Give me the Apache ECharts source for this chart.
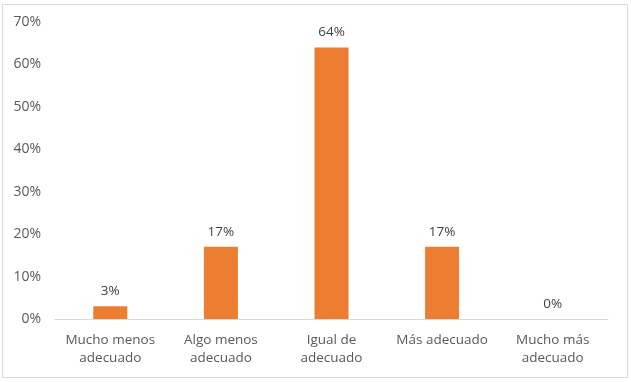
<!DOCTYPE html>
<html><head><meta charset="utf-8">
<script src="https://cdn.jsdelivr.net/npm/echarts@6/dist/echarts.min.js"></script>
<style>html,body{margin:0;padding:0;background:#fff;}#c{width:631px;height:382px;}</style>
</head><body><div id="c"></div>
<script>
const categories = ["Mucho menos\nadecuado", "Algo menos\nadecuado", "Igual de\nadecuado", "Más adecuado", "Mucho más\nadecuado"];
const values = [3, 17, 64, 17, 0];
const yTicks = [0, 10, 20, 30, 40, 50, 60, 70];

const chart = echarts.init(document.getElementById('c'), null, {renderer: 'canvas'});
const font = "'Open Sans', 'Noto Sans', sans-serif";
chart.setOption({
  animation: false,
  textStyle: {fontFamily: font},
  graphic: [{type: 'rect', shape: {x: 2.5, y: 4.5, width: 625, height: 373}, style: {fill: 'none', stroke: '#d9d9d9', lineWidth: 1}, z: -1}],
  grid: {left: 55, right: 23, top: 22, bottom: 63},
  xAxis: {
    type: 'category', data: categories,
    axisLine: {lineStyle: {color: '#d9d9d9'}},
    axisTick: {show: false},
    axisLabel: {color: '#595959', fontSize: 13.5, lineHeight: 18, margin: 12, fontFamily: font, interval: 0}
  },
  yAxis: {
    type: 'value', min: yTicks[0], max: yTicks[yTicks.length - 1], interval: 10,
    splitLine: {show: false}, axisLine: {show: false}, axisTick: {show: false},
    axisLabel: {color: '#595959', fontSize: 14, margin: 14, fontFamily: font, formatter: v => v + '%'}
  },
  series: [{
    type: 'bar', data: values, barWidth: 34,
    itemStyle: {color: '#ED7D31'},
    label: {show: true, position: 'top', distance: 8, color: '#404040', fontSize: 13.5, fontFamily: font, formatter: p => p.value + '%'}
  }]
});
</script></body></html>
